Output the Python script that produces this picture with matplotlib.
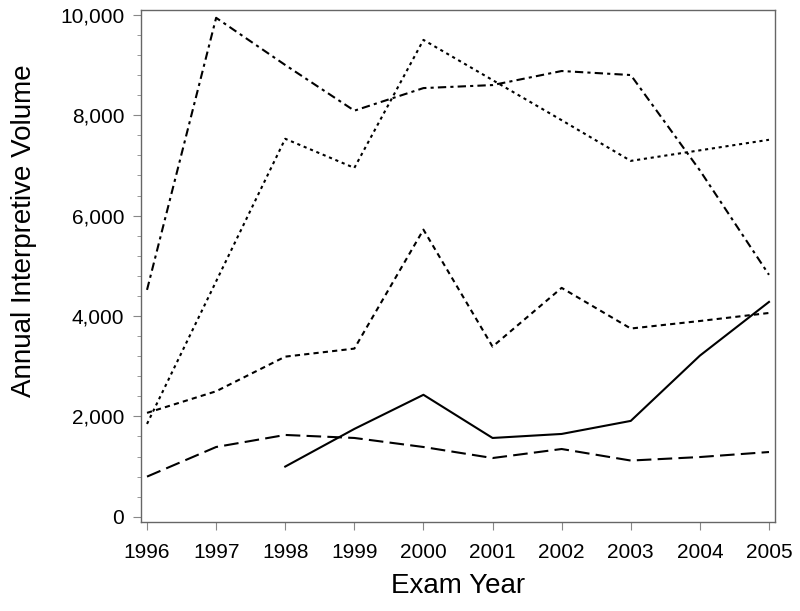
import numpy as np
import matplotlib.pyplot as plt
from matplotlib.ticker import FuncFormatter, MultipleLocator

plt.rcParams['font.family'] = ['Liberation Sans', 'DejaVu Sans']

years = [1996, 1997, 1998, 1999, 2000, 2001, 2002, 2003, 2004, 2005]

# series
vol_a = [4520, 9940, 9000, 8090, 8540, 8600, 8880, 8800, 6900, 4820]
vol_b = [1850, 4690, 7530, 6950, 9500, 8700, 7900, 7090, 7300, 7510]
vol_c = [2070, 2500, 3190, 3350, 5720, 3390, 4560, 3750, 3900, 4060]
vol_d = [np.nan, np.nan, 1000, 1750, 2430, 1570, 1650, 1910, 3210, 4280]
vol_e = [800, 1390, 1630, 1570, 1390, 1170, 1350, 1120, 1190, 1290]

fig = plt.figure(figsize=(8, 6.11), dpi=100)
ax = fig.add_axes([0.176, 0.146, 0.793, 0.838])

lw = 1.5
ax.plot(years, vol_a, color='black', lw=lw, dashes=(4, 2, 1.5, 2))
ax.plot(years, vol_b, color='black', lw=lw, dashes=(1.5, 1.8))
ax.plot(years, vol_c, color='black', lw=lw, dashes=(2.5, 2))
ax.plot(years, vol_d, color='black', lw=lw)
ax.plot(years, vol_e, color='black', lw=lw, dashes=(7, 3))

ax.set_xlim(1995.91, 2005.09)
ax.set_ylim(-100, 10100)
ax.set_xticks(years)
ax.yaxis.set_major_locator(MultipleLocator(2000))
ax.yaxis.set_minor_locator(MultipleLocator(400))
ax.yaxis.set_major_formatter(FuncFormatter(lambda v, p: f'{int(v):,}'))

for s in ax.spines.values():
    s.set_color('#666666')
    s.set_linewidth(1.0)
ax.tick_params(axis='both', which='both', color='#888888', direction='out')
ax.tick_params(axis='both', which='major', length=6, labelsize=15, pad=6)
ax.tick_params(axis='x', which='major', pad=9)
ax.tick_params(axis='y', which='minor', length=3)

ax.set_xlabel('Exam Year', fontsize=20, labelpad=8)
ax.set_ylabel('Annual Interpretive Volume', fontsize=20)
ax.yaxis.set_label_coords(-0.164, 0.568)

fig.savefig('out.png', dpi=100)
